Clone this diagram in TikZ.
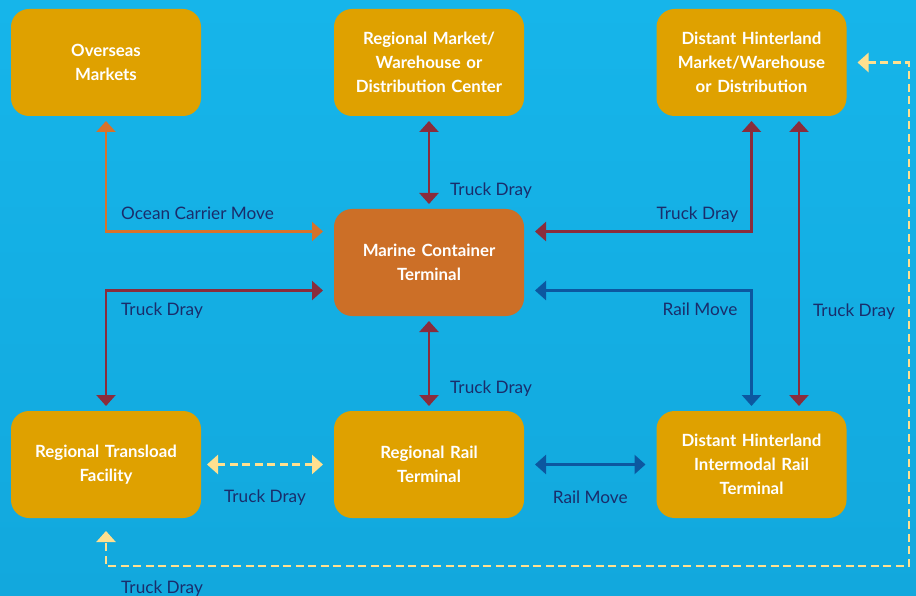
\documentclass[tikz,border=0pt]{standalone}
\usepackage{fontspec}
\setmainfont{Lato}
\usetikzlibrary{arrows.meta,calc}
\definecolor{skytop}{HTML}{16B5EA}
\definecolor{skybot}{HTML}{12A8DD}
\definecolor{gold}{HTML}{DFA100}
\definecolor{rust}{HTML}{CC6F27}
\definecolor{oceanline}{HTML}{D7722A}
\definecolor{truckline}{HTML}{8A2C3C}
\definecolor{railline}{HTML}{0C57A0}
\definecolor{drayline}{HTML}{FFE08F}
\definecolor{navy}{HTML}{1A2D6B}
\tikzset{
	% rounded boxes for the places, and one for the terminal
	place/.style={rectangle,rounded corners=18pt,fill=gold,minimum width=190pt,minimum height=107pt,
		inner sep=0pt,text width=184pt,align=center,text=white,
		font=\fontsize{16.8}{24}\selectfont\bfseries,outer xsep=11pt,outer ysep=5pt},
	terminal/.style={place,fill=rust},
	% the four kinds of moves
	move/.style={line width=2.4pt,arrows={Triangle[width=19pt,length=11pt]-Triangle[width=19pt,length=11pt]}},
	ocean/.style={move,draw=oceanline},
	truck/.style={move,draw=truckline},
	rail/.style={move,draw=railline},
	dray/.style={move,draw=drayline,dash pattern=on 8pt off 4.5pt},
	% labels of the moves
	tag/.style={inner sep=0pt,text=navy,font=\fontsize{17.2}{19}\selectfont}
}

\begin{document}
\begin{tikzpicture}[x=1pt,y=-1pt]

% sea blue background
\fill[top color=skytop,bottom color=skybot] (0,0) rectangle (916,596);
\useasboundingbox (0,0) rectangle (916,596);

% top row
\node(oversea)[place] at (106,62.5) {Overseas\\Markets};
\node(regmkt)[place] at (429,62.5) {Regional Market/\\Warehouse or\\Distribution Center};
\node(distmkt)[place] at (751.5,62.5) {Distant Hinterland\\Market/Warehouse\\or Distribution};
% middle row
\node(marine)[terminal] at (429,262.5) {Marine Container\\Terminal};
% bottom row
\node(transload)[place] at (106,464.5) {Regional Transload\\Facility};
\node(regrail)[place] at (429,464.5) {Regional Rail\\Terminal};
\node(distrail)[place] at (751.5,464.5) {Distant Hinterland\\Intermodal Rail\\Terminal};

% ocean carrier
\draw[ocean] (oversea.south) |- node[tag,anchor=base west,xshift=14pt,yshift=12pt]{Ocean Carrier Move} ([yshift=31pt]marine.west);
% truck drays round the terminal
\draw[truck] (regmkt) -- node[tag,pos=0.84,anchor=west,xshift=20pt]{Truck Dray} (marine);
\draw[truck] (distmkt.south) |- node[tag,anchor=base east,xshift=-12pt,yshift=12pt]{Truck Dray} ([yshift=31pt]marine.east);
\draw[truck] ([yshift=-28pt]marine.west) -| node[tag,anchor=base west,xshift=14pt,yshift=-25pt]{Truck Dray} (transload.north);
\draw[truck] (marine) -- node[tag,pos=0.79,anchor=west,xshift=20pt]{Truck Dray} (regrail);
% truck dray in the hinterland
\draw[truck] ([xshift=47.5pt]distmkt.south) -- node[tag,pos=0.67,anchor=west,xshift=13pt]{Truck Dray} ([xshift=47.5pt]distrail.north);
% rail moves
\draw[rail] ([yshift=-28pt]marine.east) -| node[tag,anchor=base east,xshift=-13pt,yshift=-25pt]{Rail Move} (distrail.north);
\draw[rail] (regrail) -- node[tag,yshift=-33pt]{Rail Move} (distrail);
% local drays (dashed)
\draw[dray] ([xshift=-5pt]transload.east) -- node[tag,yshift=-33pt]{Truck Dray} (regrail.west);
\coordinate (rim) at (909,566);
\draw[dray] (distmkt.east) -| (rim) -| node[tag,anchor=west,xshift=14pt,yshift=-23pt]{Truck Dray} ([yshift=-8pt]transload.south);

\end{tikzpicture}
\end{document}
